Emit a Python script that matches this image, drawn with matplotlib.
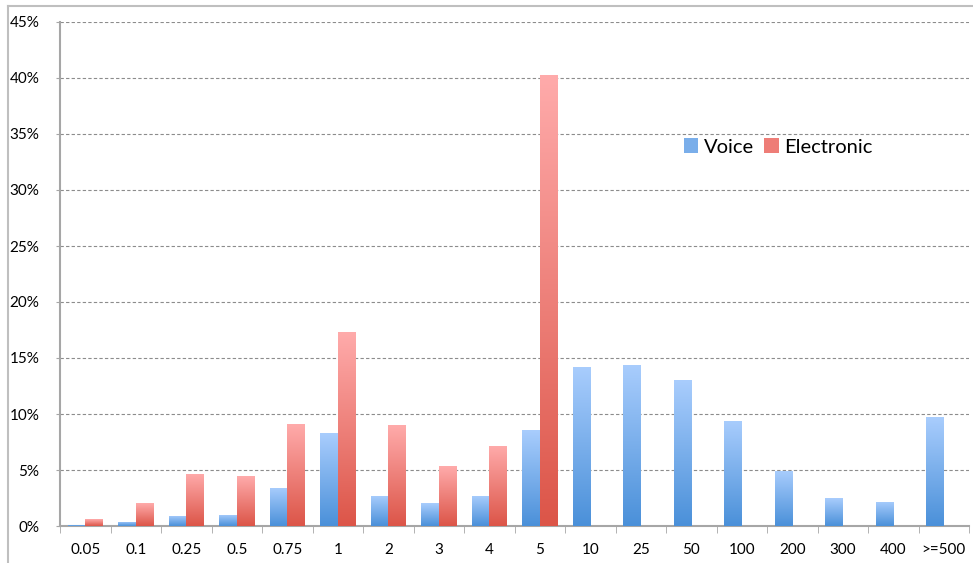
import numpy as np
import matplotlib
matplotlib.use("Agg")
from matplotlib import pyplot as plt
from matplotlib.colors import LinearSegmentedColormap
from matplotlib.lines import Line2D
from matplotlib.patches import Patch

plt.rcParams['font.family'] = ['Lato', 'DejaVu Sans']

categories = ["0.05", "0.1", "0.25", "0.5", "0.75", "1", "2", "3", "4", "5",
              "10", "25", "50", "100", "200", "300", "400", ">=500"]
voice = [0.1, 0.4, 0.9, 1.0, 3.4, 8.3, 2.7, 2.05, 2.7, 8.55,
         14.2, 14.4, 13.0, 9.4, 4.95, 2.5, 2.15, 9.7]
electronic = [0.6, 2.05, 4.65, 4.45, 9.1, 17.3, 9.0, 5.35, 7.15, 40.3,
              0, 0, 0, 0, 0, 0, 0, 0]

voice_cmap = LinearSegmentedColormap.from_list("v", ["#4a90d9", "#a9cdfd"])
elec_cmap = LinearSegmentedColormap.from_list("e", ["#dc5548", "#ffabab"])

fig = plt.figure(figsize=(9.73, 5.63), dpi=100)
ax = fig.add_axes([60 / 973, 1 - 526 / 563, 909 / 973, 504 / 563])

x = np.arange(len(categories))
w = 0.35
grad = np.linspace(0, 1, 256).reshape(-1, 1)


def gradient_bars(xs, vals, cmap):
    bars = ax.bar(xs, vals, w, color="none", edgecolor="none", zorder=3)
    for b in bars:
        h = b.get_height()
        if h <= 0:
            continue
        x0 = b.get_x()
        im = ax.imshow(grad, cmap=cmap, origin="lower", aspect="auto",
                       extent=[x0, x0 + w, 0, h], zorder=3)
        im.set_clip_path(b)
    return bars


gradient_bars(x - w / 2, voice, voice_cmap)
gradient_bars(x + w / 2, electronic, elec_cmap)

ax.set_xlim(-0.5, len(categories) - 0.5)
ax.set_ylim(0, 45)
ax.set_yticks(np.arange(0, 46, 5))
ax.set_yticklabels([f"{v}%" for v in range(0, 46, 5)])
ax.set_xticks(x)
ax.set_xticklabels(categories)
ax.set_xticks(np.arange(-0.5, len(categories), 1), minor=True)
ax.tick_params(axis="x", which="major", length=0, pad=12, labelsize=11)
ax.tick_params(axis="x", which="minor", length=5, color="#a6a6a6", direction="out")
ax.tick_params(axis="y", length=3, color="#a6a6a6", direction="out", labelsize=11, pad=12)

ax.yaxis.grid(True, linestyle=(0, (3, 2)), color="#8c8c8c", linewidth=0.8)
ax.set_axisbelow(True)
for s in ["top", "right"]:
    ax.spines[s].set_visible(False)
for s in ["left", "bottom"]:
    ax.spines[s].set_color("#a6a6a6")
    ax.spines[s].set_linewidth(1.5)

handles = [Patch(facecolor="#7aaeea", edgecolor="none"),
           Patch(facecolor="#ee7d77", edgecolor="none")]
ax.legend(handles, ["Voice", "Electronic"], loc="center left",
          bbox_to_anchor=(666 / 973, 1 - 147 / 563), bbox_transform=fig.transFigure,
          ncol=2, frameon=False, fontsize=14.5, handlelength=0.7, handleheight=0.7,
          handletextpad=0.3, columnspacing=0.5)

# outer frame of the picture
fig.add_artist(Line2D([8 / 973, 8 / 973], [0, 1 - 6 / 563], transform=fig.transFigure,
                      color="#bfbfbf", linewidth=1.5))
fig.add_artist(Line2D([8 / 973, 1], [1 - 6 / 563, 1 - 6 / 563], transform=fig.transFigure,
                      color="#bfbfbf", linewidth=1.5))

fig.savefig("out.png", dpi=100)
